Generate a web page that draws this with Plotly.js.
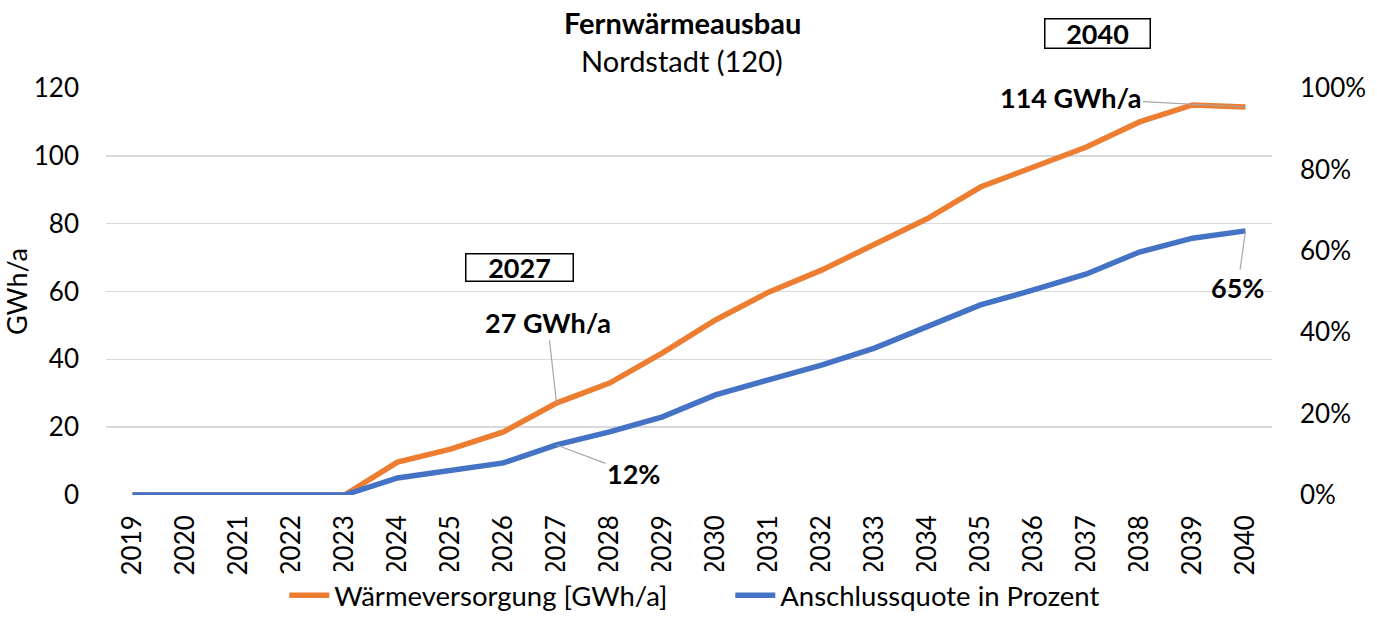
<!DOCTYPE html>
<html>
<head>
<meta charset="utf-8">
<script src="https://cdn.plot.ly/plotly-3.0.1.min.js"></script>
<style>html,body{margin:0;padding:0;background:#fff;}#chart{width:1377px;height:617px;}</style>
</head>
<body>
<div id="chart"></div>
<script>
const years = ['2019','2020','2021','2022','2023','2024','2025','2026','2027','2028','2029','2030','2031','2032','2033','2034','2035','2036','2037','2038','2039','2040'];
const waermeversorgung = [0,0,0,0,0,9.7,13.5,18.6,27.1,33,41.9,51.6,59.8,66.3,73.7,81.5,90.8,96.7,102.6,110,115,114.4];
const anschlussquote = [0,0,0,0,0,0.042,0.061,0.079,0.123,0.155,0.192,0.246,0.283,0.319,0.361,0.413,0.467,0.504,0.543,0.597,0.631,0.649];
const yTickVals = [0,20,40,60,80,100,120];
const y2TickVals = [0,0.2,0.4,0.6,0.8,1.0];

const FONT = 'Lato, "Open Sans", sans-serif';
const ORANGE = '#ED7D31';
const BLUE = '#4472C4';

const traces = [
  {x: years, y: waermeversorgung, type:'scatter', mode:'lines', name:'Wärmeversorgung [GWh/a]',
   line:{color:ORANGE, width:5.5}, yaxis:'y'},
  {x: years, y: anschlussquote, type:'scatter', mode:'lines', name:'Anschlussquote in Prozent',
   line:{color:BLUE, width:5.5}, yaxis:'y2'}
];

const leader = {showarrow:true, arrowhead:0, arrowwidth:1.2, arrowcolor:'#a6a6a6', font:{family:FONT, size:27, color:'#000'}};
const i2027 = years.indexOf('2027');
const i2040 = years.indexOf('2040');

const layout = {
  width:1377, height:617,
  margin:{l:106, r:105, t:88, b:122, autoexpand:false},
  paper_bgcolor:'#fff', plot_bgcolor:'#fff',
  font:{family:FONT, size:26, color:'#000'},
  showlegend:true,
  legend:{orientation:'h', x:0.1529, xanchor:'left', y:-0.307, yanchor:'bottom', font:{family:FONT, size:27.5, color:'#000'},
          itemwidth:40, entrywidth:391, entrywidthmode:'pixels', borderwidth:0},
  xaxis:{type:'category', range:[-0.5,21.5], tickangle:-90, showgrid:false, zeroline:false, showline:false, ticks:'', ticklabelstandoff:14, tickfont:{size:26}},
  yaxis:{range:[0,120], tickvals:yTickVals, showgrid:true, gridcolor:'#d9d9d9', gridwidth:1.5, zeroline:false, showline:false, ticks:'', ticklabelstandoff:26, tickfont:{size:26},
         title:{text:'GWh/a', font:{size:27}, standoff:6}},
  yaxis2:{range:[0,1], tickvals:y2TickVals, tickformat:'.0%', overlaying:'y', side:'right', showgrid:false, zeroline:false, showline:false, ticks:'', ticklabelstandoff:27, tickfont:{size:26}},
  annotations:[
    {xref:'paper', yref:'paper', x:0.494, xanchor:'center', y:1.16, yanchor:'middle', text:'<b>Fernwärmeausbau</b>', showarrow:false, font:{family:FONT, size:29}},
    {xref:'paper', yref:'paper', x:0.494, xanchor:'center', y:1.067, yanchor:'middle', text:'Nordstadt (120)', showarrow:false, font:{family:FONT, size:29}},
    {xref:'paper', yref:'paper', x:0.355, xanchor:'center', y:0.558, yanchor:'middle', text:'<b>2027</b>', showarrow:false, font:{family:FONT, size:27}, bordercolor:'#000', borderwidth:1.5, width:102, height:22, borderpad:2, bgcolor:'#fff'},
    {xref:'paper', yref:'paper', x:0.85, xanchor:'center', y:1.135, yanchor:'middle', text:'<b>2040</b>', showarrow:false, font:{family:FONT, size:27}, bordercolor:'#000', borderwidth:1.5, width:100, height:24, borderpad:2, bgcolor:'#fff'},
    Object.assign({}, leader, {x:i2027, y:waermeversorgung[i2027], xref:'x', yref:'y', text:'<b>27 GWh/a</b>', ax:-9, ay:-81}),
    Object.assign({}, leader, {x:i2027, y:anschlussquote[i2027], xref:'x', yref:'y2', text:'<b>12%</b>', ax:77, ay:29}),
    Object.assign({}, leader, {x:i2040, y:waermeversorgung[i2040], xref:'x', yref:'y', text:'<b>114 GWh/a</b>', ax:-175, ay:-9}),
    Object.assign({}, leader, {x:i2040, y:anschlussquote[i2040], xref:'x', yref:'y2', text:'<b>65%</b>', ax:-8, ay:57})
  ]
};

Plotly.newPlot('chart', traces, layout, {displayModeBar:false, staticPlot:true});
</script>
</body>
</html>
